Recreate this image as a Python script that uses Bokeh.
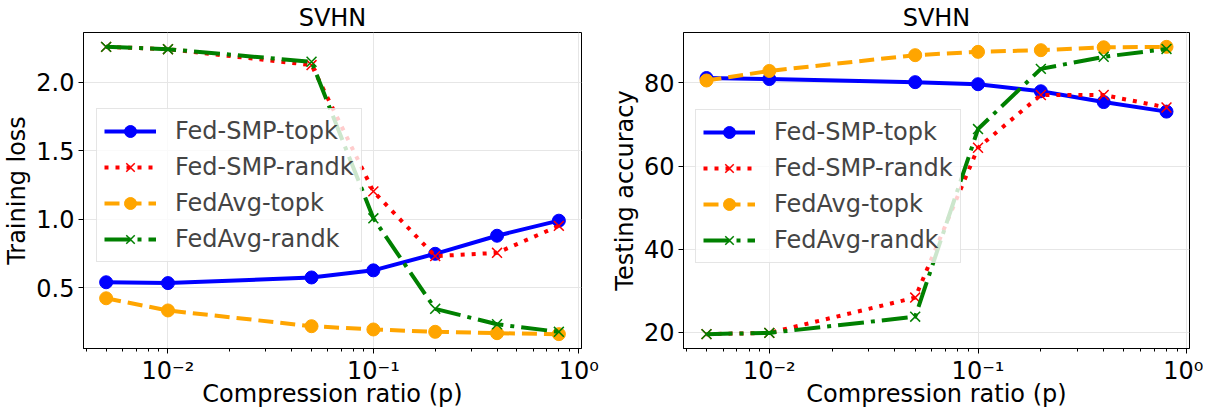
import math
from bokeh.plotting import figure
from bokeh.layouts import row
from bokeh.models import FixedTicker, Range1d, Legend, LegendItem, NumeralTickFormatter
from bokeh.embed import file_html
from bokeh.resources import INLINE

# ---- data ----
ratios = [0.005, 0.01, 0.05, 0.1, 0.2, 0.4, 0.8]
series_names = ["Fed-SMP-topk", "Fed-SMP-randk", "FedAvg-topk", "FedAvg-randk"]

loss_smp_topk = [0.54, 0.534, 0.575, 0.627, 0.748, 0.880, 0.990]
loss_smp_randk = [2.26, 2.243, 2.127, 1.204, 0.731, 0.755, 0.952]
loss_avg_topk = [0.423, 0.334, 0.219, 0.195, 0.178, 0.168, 0.161]
loss_avg_randk = [2.26, 2.243, 2.151, 1.007, 0.346, 0.233, 0.178]

acc_smp_topk = [81.2, 80.95, 80.2, 79.7, 78.0, 75.4, 73.1]
acc_smp_randk = [19.5, 19.8, 28.3, 64.4, 77.1, 77.1, 74.1]
acc_avg_topk = [80.6, 82.9, 86.7, 87.5, 87.9, 88.6, 88.7]
acc_avg_randk = [19.5, 19.8, 23.7, 68.9, 83.4, 86.3, 88.2]

x_major = [0.01, 0.1, 1.0]
x_major_labels = ["10\u207b\u00b2", "10\u207b\u00b9", "10\u2070"]
loss_ticks = [0.5, 1.0, 1.5, 2.0]
acc_ticks = [20, 40, 60, 80]
x_label = "Compression ratio (p)"

FONT = "DejaVu Sans"
STYLES = [
    dict(color="blue", dash="solid", marker="circle"),
    dict(color="red", dash="4 7", marker="x"),
    dict(color="orange", dash="15 7", marker="circle"),
    dict(color="green", dash="26 7 4 7", marker="x"),
]


def auto_range(vals):
    lo, hi = min(vals), max(vals)
    m = (hi - lo) * 0.05
    return lo - m, hi + m


def make_fig(width, bl, br, ylabel, ys, yticks, yfmt, leg_loc):
    lx = [math.log10(r) for r in ratios]
    a, b = auto_range(lx)
    allv = [v for s in ys for v in s]
    y0, y1 = auto_range(allv)
    p = figure(width=width, height=410, x_axis_type="log",
               x_range=Range1d(10 ** a, 10 ** b), y_range=Range1d(y0, y1),
               output_backend="svg", toolbar_location=None,
               min_border_left=bl, min_border_right=br,
               min_border_top=25, min_border_bottom=60, title="SVHN")
    p.title.text_font = FONT
    p.title.text_font_size = "24px"
    p.title.text_font_style = "normal"
    p.title.text_color = "black"
    p.title.align = "center"
    p.title.standoff = 2
    p.outline_line_color = "black"
    p.outline_line_alpha = 1
    p.outline_line_width = 1

    minor = []
    for d in [0.001, 0.01, 0.1]:
        for k in range(2, 10):
            minor.append(round(d * k, 4))
    p.xaxis.ticker = FixedTicker(ticks=x_major, minor_ticks=minor)
    p.xaxis.major_label_overrides = {t: l for t, l in zip(x_major, x_major_labels)}
    p.yaxis.ticker = FixedTicker(ticks=yticks)
    p.yaxis.formatter = NumeralTickFormatter(format=yfmt)
    for ax in (p.xaxis, p.yaxis):
        ax.axis_line_color = "black"
        ax.major_tick_line_color = "black"
        ax.minor_tick_line_color = "black"
        ax.major_tick_in = 0
        ax.major_tick_out = 5
        ax.minor_tick_in = 0
        ax.minor_tick_out = 3
        ax.major_label_text_font = FONT
        ax.major_label_text_font_size = "24px"
        ax.major_label_text_color = "black"
        ax.axis_label_text_font = FONT
        ax.axis_label_text_font_size = "24px"
        ax.axis_label_text_font_style = "normal"
        ax.axis_label_text_color = "black"
        ax.major_label_standoff = 4
        ax.axis_label_standoff = 2
    p.xaxis.major_label_standoff = 3
    p.xaxis.axis_label_standoff = -8
    p.yaxis.minor_tick_out = 0
    p.xaxis.axis_label = x_label
    p.yaxis.axis_label = ylabel
    p.grid.grid_line_color = "#e6e6e6"
    p.grid.grid_line_width = 1

    items = []
    for name, vals, st in zip(series_names, ys, STYLES):
        lr = p.line(ratios, vals, line_color=st["color"], line_width=4,
                    line_dash=st["dash"])
        if st["marker"] == "circle":
            sr = p.scatter(ratios, vals, marker="circle", size=13,
                           fill_color=st["color"], line_color=st["color"])
        else:
            sr = p.scatter(ratios, vals, marker="x", size=14,
                           line_color=st["color"], line_width=1.5)
        items.append(LegendItem(label=name, renderers=[lr, sr]))

    leg = Legend(items=items, location=leg_loc)
    leg.label_text_font = FONT
    leg.label_text_font_size = "24px"
    leg.glyph_width = 52
    leg.glyph_height = 30
    leg.label_height = 30
    leg.label_standoff = 19
    leg.spacing = 6
    leg.padding = 7
    leg.margin = 0
    leg.border_line_color = "#cccccc"
    leg.border_line_width = 1
    leg.background_fill_color = "white"
    leg.background_fill_alpha = 0.8
    p.add_layout(leg)
    return p


p1 = make_fig(600, 77, 19, "Training loss",
              [loss_smp_topk, loss_smp_randk, loss_avg_topk, loss_avg_randk],
              loss_ticks, "0.0", (13, 86))
p2 = make_fig(603, 83, 14, "Testing accuracy",
              [acc_smp_topk, acc_smp_randk, acc_avg_topk, acc_avg_randk],
              acc_ticks, "0", (12, 85))

layout = row(p1, p2)
open("out.html", "w").write(file_html(layout, INLINE))
